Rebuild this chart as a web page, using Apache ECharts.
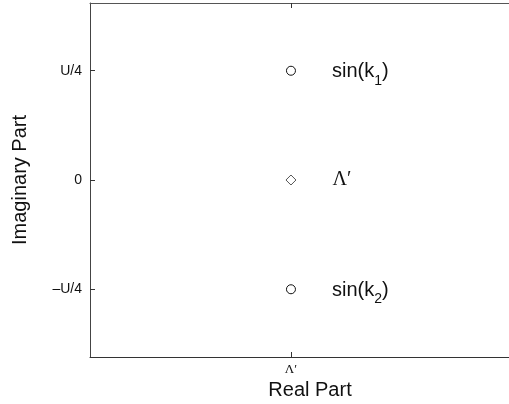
<!DOCTYPE html>
<html>
<head>
<meta charset="utf-8">
<script src="https://cdn.jsdelivr.net/npm/echarts@6/dist/echarts.min.js"></script>
<style>
  html, body { margin: 0; padding: 0; background: #fff; }
  #chart { width: 509px; height: 404px; }
</style>
</head>
<body>
<div id="chart"></div>
<script>
// Points in the complex plane, imaginary part measured in units of U/4
const pointLabels = ['{t|sin(k}{s|1}{t|)}', '{g|Λ′}', '{t|sin(k}{s|2}{t|)}'];
const pointSymbols = ['circle', 'diamond', 'circle'];
const realParts = [0, 0, 0];
const imagParts = [1, 0, -1];

// Axis ticks
const xTickValues = [0];
const xTickLabels = ['Λ′'];
const yTickValues = [-1, 0, 1];
const yTickLabels = ['–U/4', '0', 'U/4'];

const sans = '"Liberation Sans", Arial, Helvetica, sans-serif';
const serif = '"Liberation Serif", "Times New Roman", serif';

const seriesData = realParts.map((x, i) => ({
  value: [x, imagParts[i]],
  symbol: pointSymbols[i],
  symbolSize: pointSymbols[i] === 'diamond' ? 10 : 9,
  itemStyle: {
    color: '#fff',
    opacity: 1,
    borderColor: pointSymbols[i] === 'diamond' ? '#555' : '#111',
    borderWidth: 1
  },
  label: { formatter: pointLabels[i] }
}));

const chart = echarts.init(document.getElementById('chart'), null, { renderer: 'canvas' });
chart.setOption({
  animation: false,
  backgroundColor: '#fff',
  grid: { left: 90, top: 3, right: 0, bottom: 47, outerBoundsMode: 'none' },
  xAxis: [{
    type: 'value',
    position: 'bottom',
    min: -1,
    max: 1.085,
    name: 'Real Part',
    nameLocation: 'middle',
    nameGap: 22,
    nameTextStyle: { fontFamily: sans, fontSize: 20, color: '#111', padding: [0, 0, 0, 21] },
    axisLine: { show: true, onZero: false, lineStyle: { color: '#333', width: 1 } },
    axisTick: { show: true, inside: true, length: 5, customValues: xTickValues, lineStyle: { color: '#333' } },
    axisLabel: {
      show: true, customValues: xTickValues, margin: 6,
      formatter: v => xTickLabels[xTickValues.indexOf(v)] || '',
      fontFamily: serif, fontSize: 13, color: '#111'
    },
    splitLine: { show: false }
  }, {
    type: 'value',
    position: 'top',
    min: -1,
    max: 1.085,
    axisLine: { show: true, onZero: false, lineStyle: { color: '#555', width: 1 } },
    axisTick: { show: true, inside: true, length: 5, customValues: xTickValues, lineStyle: { color: '#333' } },
    axisLabel: { show: false },
    splitLine: { show: false }
  }],
  yAxis: {
    type: 'value',
    min: -1.62,
    max: 1.62,
    name: 'Imaginary Part',
    nameLocation: 'middle',
    nameGap: 60,
    nameTextStyle: { fontFamily: sans, fontSize: 20, color: '#111' },
    axisLine: { show: true, onZero: false, lineStyle: { color: '#444', width: 1 } },
    axisTick: { show: true, inside: true, length: 5, customValues: yTickValues, lineStyle: { color: '#333' } },
    axisLabel: {
      show: true, customValues: yTickValues, margin: 8,
      formatter: v => yTickLabels[yTickValues.indexOf(v)] || '',
      fontFamily: sans, fontSize: 14, color: '#111'
    },
    splitLine: { show: false }
  },
  series: [{
    type: 'scatter',
    xAxisIndex: 0,
    data: seriesData,
    label: {
      show: true,
      position: 'right',
      distance: 36,
      rich: {
        t: { fontFamily: sans, fontSize: 20, color: '#111', lineHeight: 22, verticalAlign: 'bottom' },
        s: { fontFamily: sans, fontSize: 14, color: '#111', lineHeight: 22, verticalAlign: 'bottom', padding: [0, 0, -6, 0] },
        g: { fontFamily: serif, fontSize: 20, color: '#111', lineHeight: 22 }
      }
    }
  }]
});
</script>
</body>
</html>
